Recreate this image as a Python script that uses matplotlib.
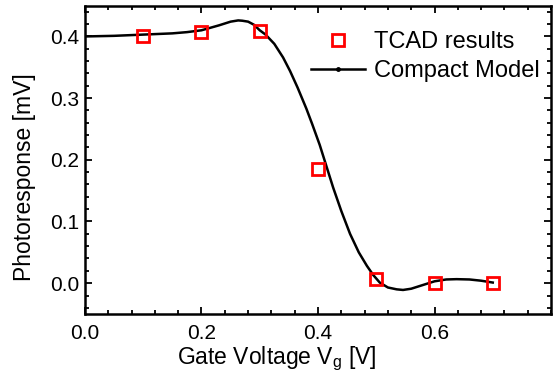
import matplotlib
matplotlib.use('Agg')
import matplotlib.pyplot as plt
from matplotlib.lines import Line2D
from matplotlib.ticker import MultipleLocator

# TCAD points
tcad_v = [0.1, 0.2, 0.3, 0.4, 0.5, 0.6, 0.7]
tcad_pr = [0.400, 0.408, 0.409, 0.185, 0.006, 0.001, 0.000]

# compact model curve
model_v = [0.0, 0.05, 0.1, 0.15, 0.175, 0.2, 0.215, 0.23, 0.24, 0.25, 0.263, 0.27, 0.28, 0.29,
           0.3, 0.31, 0.325, 0.34, 0.352, 0.365, 0.38, 0.39, 0.403, 0.415, 0.426,
           0.44, 0.455, 0.47, 0.484, 0.495, 0.506, 0.52, 0.535, 0.546, 0.56, 0.58, 0.6,
           0.62, 0.638, 0.66, 0.68, 0.7]
model_pr = [0.400, 0.401, 0.403, 0.405, 0.407, 0.410, 0.414, 0.418, 0.421, 0.424, 0.426, 0.4255, 0.424, 0.419,
            0.410, 0.403, 0.388, 0.366, 0.344, 0.317, 0.283, 0.258, 0.224, 0.188, 0.155,
            0.117, 0.080, 0.050, 0.028, 0.013, 0.001, -0.007, -0.010, -0.011, -0.009, -0.003, 0.003,
            0.006, 0.0065, 0.006, 0.004, 0.001]

plt.rcParams['font.family'] = ['Liberation Sans', 'DejaVu Sans']
plt.rcParams['mathtext.fontset'] = 'custom'
plt.rcParams['mathtext.rm'] = 'Liberation Sans'
plt.rcParams['mathtext.it'] = 'Liberation Sans'

fig = plt.figure(figsize=(5.53, 3.74), dpi=100)
ax = fig.add_axes([0.1537, 0.1604, 0.8427, 0.8246])

ax.plot(model_v, model_pr, color='black', lw=1.8, zorder=2)
ax.plot(tcad_v, tcad_pr, ls='none', marker='s', ms=9, mfc='none', mec='#ff0000', mew=2, zorder=3)

ax.set_xlim(0, 0.8)
ax.set_ylim(-0.05, 0.45)
ax.xaxis.set_minor_locator(MultipleLocator(0.04))
ax.yaxis.set_minor_locator(MultipleLocator(0.02))
ax.set_xticks([0.0, 0.2, 0.4, 0.6])
ax.set_xticklabels(['0.0', '0.2', '0.4', '0.6'])
ax.set_yticks([0.0, 0.1, 0.2, 0.3, 0.4])
ax.set_yticklabels(['0.0', '0.1', '0.2', '0.3', '0.4'])

for s in ax.spines.values():
    s.set_linewidth(1.8)
ax.tick_params(which='both', direction='in', top=True, right=True, width=1.3, labelsize=15)
ax.tick_params(which='major', length=5)
ax.tick_params(which='minor', length=3)
ax.tick_params(axis='x', pad=7)
ax.tick_params(axis='y', pad=4)

ax.set_xlabel('Gate Voltage V$_\\mathregular{g}$ [V]', fontsize=16.5)
ax.set_ylabel('Photoresponse [mV]', fontsize=16.5)
ax.xaxis.set_label_coords(0.412, -0.10)
ax.yaxis.set_label_coords(-0.105, 0.444)

handles = [Line2D([], [], ls='none', marker='s', ms=9, mfc='none', mec='#ff0000', mew=2),
           Line2D([], [], color='black', lw=1.8, marker='o', ms=2.5)]
ax.legend(handles, ['TCAD results', 'Compact Model'], loc='upper right',
          bbox_to_anchor=(0.997, 0.948), frameon=False, fontsize=17,
          handlelength=2.25, handletextpad=0.42, labelspacing=0.3, borderaxespad=0)

plt.savefig('out.png', dpi=100)
